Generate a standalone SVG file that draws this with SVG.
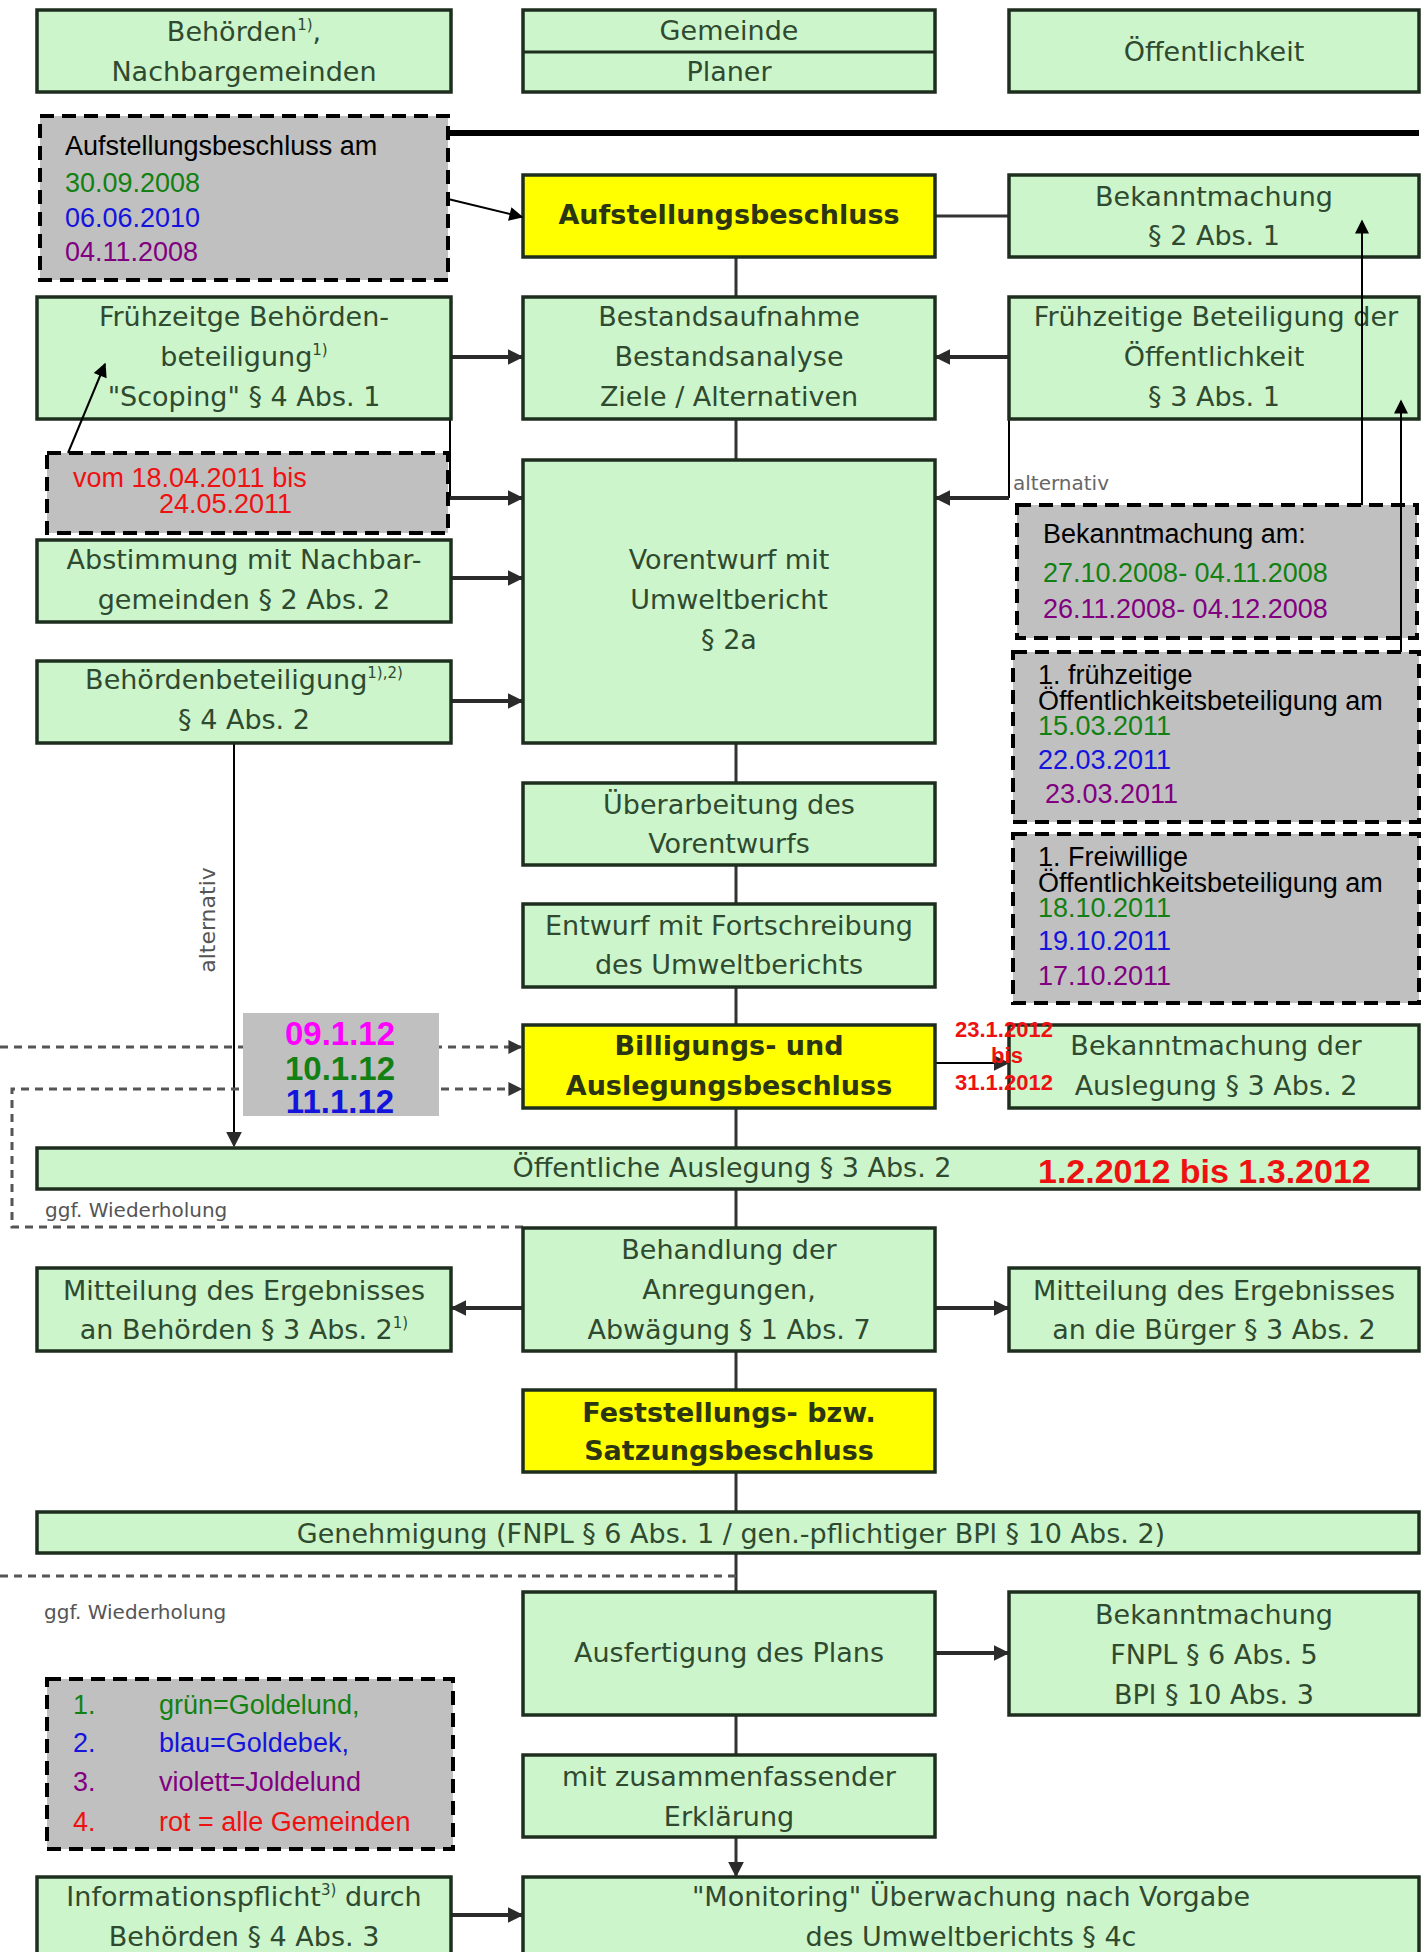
<svg xmlns="http://www.w3.org/2000/svg" width="1428" height="1952" viewBox="0 0 1428 1952">
<defs>
<marker id="ah" viewBox="0 0 10 10" refX="9" refY="5" markerWidth="16" markerHeight="16" markerUnits="userSpaceOnUse" orient="auto"><path d="M0,0 L10,5 L0,10 z" fill="#2b2b2b"/></marker>
<marker id="ak" viewBox="0 0 10 10" refX="9" refY="5" markerWidth="16" markerHeight="14" markerUnits="userSpaceOnUse" orient="auto"><path d="M0,0 L10,5 L0,10 z" fill="#000"/></marker>
<marker id="ad" viewBox="0 0 10 10" refX="9" refY="5" markerWidth="14" markerHeight="14" markerUnits="userSpaceOnUse" orient="auto"><path d="M0,0 L10,5 L0,10 z" fill="#333"/></marker>
</defs>
<style>
.box{fill:#ccf5cc;stroke:#1e2e1e;stroke-width:3.5}
.ybox{fill:#ffff00;stroke:#1e2e1e;stroke-width:3.5}
.gbox{fill:#c0c0c0;stroke:#000;stroke-width:4;stroke-dasharray:14 8}
.t{font-family:"DejaVu Sans",Verdana,sans-serif;font-size:27px;fill:#2f4a2f;text-anchor:middle}
.tb{font-family:"DejaVu Sans",Verdana,sans-serif;font-size:27px;font-weight:bold;fill:#2b3512;text-anchor:middle}
.a{font-family:"Liberation Sans",Arial,sans-serif;font-size:27px}
.ab{font-family:"Liberation Sans",Arial,sans-serif;font-weight:bold}
.g{fill:#138013}.b{fill:#1414dc}.v{fill:#800080}.r{fill:#ee1111}.k{fill:#000}.m{fill:#ff00ff}
.c{stroke:#2b2b2b;stroke-width:4;fill:none}
.cl{stroke:#333;stroke-width:3;fill:none}
.n{stroke:#000;stroke-width:2;fill:none}
.d{stroke:#555;stroke-width:3;stroke-dasharray:8 6;fill:none}
.s{font-family:"DejaVu Sans",Verdana,sans-serif;font-size:20px;fill:#666}
</style>
<rect width="1428" height="1952" fill="#fff"/>

<g id="connectors">
<line class="n" x1="450" y1="133" x2="1419" y2="133" style="stroke-width:6"/>
<path class="cl" d="M736,257V297M736,419V460M736,743V783M736,865V904M736,987V1025M736,1108V1148M736,1189V1228M736,1351V1390M736,1472V1512M736,1553V1592M736,1715V1755"/>
<line class="cl" x1="736" y1="1837" x2="736" y2="1876" marker-end="url(#ah)"/>
<line class="cl" x1="935" y1="216" x2="1009" y2="216"/>
<line class="c" x1="451" y1="357" x2="522" y2="357" marker-end="url(#ah)"/>
<line class="c" x1="1009" y1="357" x2="936" y2="357" marker-end="url(#ah)"/>
<path class="n" d="M450,419V498"/>
<line class="c" x1="450" y1="498" x2="522" y2="498" marker-end="url(#ah)"/>
<path class="n" d="M1009,419V498"/>
<line class="c" x1="1009" y1="498" x2="936" y2="498" marker-end="url(#ah)"/>
<line class="c" x1="451" y1="578" x2="522" y2="578" marker-end="url(#ah)"/>
<line class="c" x1="451" y1="701" x2="522" y2="701" marker-end="url(#ah)"/>
<line class="n" x1="234" y1="743" x2="234" y2="1146" marker-end="url(#ah)"/>
<line class="n" x1="935" y1="1063" x2="1008" y2="1063" marker-end="url(#ah)"/>
<line class="c" x1="523" y1="1308" x2="452" y2="1308" marker-end="url(#ah)"/>
<line class="c" x1="935" y1="1308" x2="1008" y2="1308" marker-end="url(#ah)"/>
<line class="c" x1="935" y1="1653" x2="1008" y2="1653" marker-end="url(#ah)"/>
<line class="c" x1="451" y1="1915" x2="522" y2="1915" marker-end="url(#ah)"/>
<line class="d" x1="0" y1="1047" x2="521" y2="1047" marker-end="url(#ad)"/>
<path class="d" d="M523,1227H12V1089H521" marker-end="url(#ad)"/>
<line class="d" x1="0" y1="1576" x2="736" y2="1576"/>
<text class="s" x="1013" y="490">alternativ</text>
<text class="s" x="0" y="0" text-anchor="middle" transform="translate(215,920) rotate(-90)" style="font-size:22px;fill:#555">alternativ</text>
<text class="s" x="45" y="1217" style="fill:#555">ggf. Wiederholung</text>
<text class="s" x="44" y="1619" style="fill:#555">ggf. Wiederholung</text>
</g>

<g id="h-behoerden"><rect class="box" x="37" y="10" width="414" height="82"/><text class="t" x="244" y="41">Behörden<tspan font-size="15" dy="-11">1)</tspan><tspan dy="11">,</tspan></text><text class="t" x="244" y="81">Nachbargemeinden</text></g>
<g id="h-gemeinde"><rect class="box" x="523" y="10" width="412" height="82"/><line x1="523" y1="52" x2="935" y2="52" stroke="#1e2e1e" stroke-width="3"/><text class="t" x="729" y="40">Gemeinde</text><text class="t" x="729" y="81">Planer</text></g>
<g id="h-oeff"><rect class="box" x="1009" y="10" width="410" height="82"/><text class="t" x="1214" y="61">Öffentlichkeit</text></g>

<g id="note-aufstellung"><rect class="gbox" x="40" y="116" width="408" height="164"/>
<text class="a k" x="65" y="155">Aufstellungsbeschluss am</text>
<text class="a g" x="65" y="192">30.09.2008</text>
<text class="a b" x="65" y="227">06.06.2010</text>
<text class="a v" x="65" y="261">04.11.2008</text></g>

<g id="aufstellung"><rect class="ybox" x="523" y="175" width="412" height="82"/><text class="tb" x="729" y="224">Aufstellungsbeschluss</text></g>
<g id="bekannt1"><rect class="box" x="1009" y="175" width="410" height="82"/><text class="t" x="1214" y="206">Bekanntmachung</text><text class="t" x="1214" y="245">§ 2 Abs. 1</text></g>

<g id="fruehB"><rect class="box" x="37" y="297" width="414" height="122"/><text class="t" x="244" y="326">Frühzeitge Behörden-</text><text class="t" x="244" y="366">beteiligung<tspan font-size="15" dy="-11">1)</tspan></text><text class="t" x="244" y="406">"Scoping" § 4 Abs. 1</text></g>
<g id="bestand"><rect class="box" x="523" y="297" width="412" height="122"/><text class="t" x="729" y="326">Bestandsaufnahme</text><text class="t" x="729" y="366">Bestandsanalyse</text><text class="t" x="729" y="406">Ziele / Alternativen</text></g>
<g id="fruehOe"><rect class="box" x="1009" y="297" width="410" height="122"/><text class="t" x="1216" y="326">Frühzeitige Beteiligung der</text><text class="t" x="1214" y="366">Öffentlichkeit</text><text class="t" x="1214" y="406">§ 3 Abs. 1</text></g>

<g id="vorentwurf"><rect class="box" x="523" y="460" width="412" height="283"/><text class="t" x="729" y="569">Vorentwurf mit</text><text class="t" x="729" y="609">Umweltbericht</text><text class="t" x="729" y="649">§ 2a</text></g>
<g id="note-vom"><rect class="gbox" x="47" y="453" width="401" height="80"/><text class="a r" x="73" y="487" font-size="26">vom 18.04.2011 bis</text><text class="a r" x="159" y="513" font-size="26">24.05.2011</text></g>
<g id="abstimmung"><rect class="box" x="37" y="540" width="414" height="82"/><text class="t" x="244" y="569">Abstimmung mit Nachbar-</text><text class="t" x="244" y="609">gemeinden § 2 Abs. 2</text></g>
<g id="behoerdenbet"><rect class="box" x="37" y="661" width="414" height="82"/><text class="t" x="244" y="689">Behördenbeteiligung<tspan font-size="15" dy="-11">1),2)</tspan></text><text class="t" x="244" y="729">§ 4 Abs. 2</text></g>

<g id="note-bekannt"><rect class="gbox" x="1017" y="505" width="400" height="133"/>
<text class="a k" x="1043" y="543">Bekanntmachung am:</text>
<text class="a g" x="1043" y="582">27.10.2008- 04.11.2008</text>
<text class="a v" x="1043" y="618">26.11.2008- 04.12.2008</text></g>
<g id="note-frueh"><rect class="gbox" x="1013" y="652" width="406" height="170"/>
<text class="a k" x="1038" y="684">1. frühzeitige</text>
<text class="a k" x="1038" y="710">Öffentlichkeitsbeteiligung am</text>
<text class="a g" x="1038" y="735">15.03.2011</text>
<text class="a b" x="1038" y="769">22.03.2011</text>
<text class="a v" x="1045" y="803">23.03.2011</text></g>
<g id="note-freiw"><rect class="gbox" x="1013" y="834" width="406" height="169"/>
<text class="a k" x="1038" y="866">1. Freiwillige</text>
<text class="a k" x="1038" y="892">Öffentlichkeitsbeteiligung am</text>
<text class="a g" x="1038" y="917">18.10.2011</text>
<text class="a b" x="1038" y="950">19.10.2011</text>
<text class="a v" x="1038" y="985">17.10.2011</text></g>

<g id="ueberarb"><rect class="box" x="523" y="783" width="412" height="82"/><text class="t" x="729" y="814">Überarbeitung des</text><text class="t" x="729" y="853">Vorentwurfs</text></g>
<g id="entwurf"><rect class="box" x="523" y="904" width="412" height="83"/><text class="t" x="729" y="935">Entwurf mit Fortschreibung</text><text class="t" x="729" y="974">des Umweltberichts</text></g>
<g id="billigung"><rect class="ybox" x="523" y="1025" width="412" height="83"/><text class="tb" x="729" y="1055">Billigungs- und</text><text class="tb" x="729" y="1095">Auslegungsbeschluss</text></g>
<g id="bekannt-ausl"><rect class="box" x="1009" y="1025" width="410" height="83"/><text class="t" x="1216" y="1055">Bekanntmachung der</text><text class="t" x="1216" y="1095">Auslegung § 3 Abs. 2</text></g>
<g id="dates-billigung"><rect x="243" y="1013" width="196" height="103" fill="#c0c0c0"/>
<text class="ab m" x="340" y="1045" font-size="33" text-anchor="middle">09.1.12</text>
<text class="ab g" x="340" y="1080" font-size="33" text-anchor="middle">10.1.12</text>
<text class="ab b" x="340" y="1113" font-size="33" text-anchor="middle">11.1.12</text></g>
<g id="dates-bekannt">
<text class="ab r" x="955" y="1037" font-size="22">23.1.2012</text>
<text class="ab r" x="1007" y="1063" font-size="22" text-anchor="middle">bis</text>
<text class="ab r" x="955" y="1090" font-size="22">31.1.2012</text></g>
<g id="auslegung"><rect class="box" x="37" y="1148" width="1382" height="41"/><text class="t" x="732" y="1177">Öffentliche Auslegung § 3 Abs. 2</text><text class="ab r" x="1038" y="1183" font-size="34">1.2.2012 bis 1.3.2012</text></g>
<g id="behandlung"><rect class="box" x="523" y="1228" width="412" height="123"/><text class="t" x="729" y="1259">Behandlung der</text><text class="t" x="729" y="1299">Anregungen,</text><text class="t" x="729" y="1339">Abwägung § 1 Abs. 7</text></g>
<g id="mitt-beh"><rect class="box" x="37" y="1268" width="414" height="83"/><text class="t" x="244" y="1300">Mitteilung des Ergebnisses</text><text class="t" x="244" y="1339">an Behörden § 3 Abs. 2<tspan font-size="15" dy="-11">1)</tspan></text></g>
<g id="mitt-buerger"><rect class="box" x="1009" y="1268" width="410" height="83"/><text class="t" x="1214" y="1300">Mitteilung des Ergebnisses</text><text class="t" x="1214" y="1339">an die Bürger § 3 Abs. 2</text></g>
<g id="feststellung"><rect class="ybox" x="523" y="1390" width="412" height="82"/><text class="tb" x="729" y="1422">Feststellungs- bzw.</text><text class="tb" x="729" y="1460">Satzungsbeschluss</text></g>
<g id="genehmigung"><rect class="box" x="37" y="1512" width="1382" height="41"/><text class="t" x="731" y="1543">Genehmigung (FNPL § 6 Abs. 1 / gen.-pflichtiger BPl § 10 Abs. 2)</text></g>
<g id="ausfertigung"><rect class="box" x="523" y="1592" width="412" height="123"/><text class="t" x="729" y="1662">Ausfertigung des Plans</text></g>
<g id="bekannt-fnpl"><rect class="box" x="1009" y="1592" width="410" height="123"/><text class="t" x="1214" y="1624">Bekanntmachung</text><text class="t" x="1214" y="1664">FNPL § 6 Abs. 5</text><text class="t" x="1214" y="1704">BPl § 10 Abs. 3</text></g>
<g id="legend"><rect class="gbox" x="47" y="1679" width="406" height="170"/>
<text class="a g" x="73" y="1714">1.</text><text class="a g" x="159" y="1714">grün=Goldelund,</text>
<text class="a b" x="73" y="1752">2.</text><text class="a b" x="159" y="1752">blau=Goldebek,</text>
<text class="a v" x="73" y="1791">3.</text><text class="a v" x="159" y="1791">violett=Joldelund</text>
<text class="a r" x="73" y="1831">4.</text><text class="a r" x="159" y="1831">rot = alle Gemeinden</text></g>
<g id="erklaerung"><rect class="box" x="523" y="1755" width="412" height="82"/><text class="t" x="729" y="1786">mit zusammenfassender</text><text class="t" x="729" y="1826">Erklärung</text></g>
<g id="info"><rect class="box" x="37" y="1877" width="414" height="90"/><text class="t" x="244" y="1906">Informationspflicht<tspan font-size="15" dy="-11">3)</tspan><tspan dy="11"> durch</tspan></text><text class="t" x="244" y="1946">Behörden § 4 Abs. 3</text></g>
<g id="monitoring"><rect class="box" x="523" y="1877" width="896" height="90"/><text class="t" x="971" y="1906">"Monitoring" Überwachung nach Vorgabe</text><text class="t" x="971" y="1946">des Umweltberichts § 4c</text></g>

<g id="annotation-connectors">
<line class="n" x1="448" y1="199" x2="522" y2="217" marker-end="url(#ak)"/>
<line class="n" x1="68" y1="453" x2="105" y2="364" marker-end="url(#ak)"/>
<line class="n" x1="1362" y1="505" x2="1362" y2="221" marker-end="url(#ak)"/>
<line class="n" x1="1401" y1="652" x2="1401" y2="401" marker-end="url(#ak)"/>
</g>
</svg>
